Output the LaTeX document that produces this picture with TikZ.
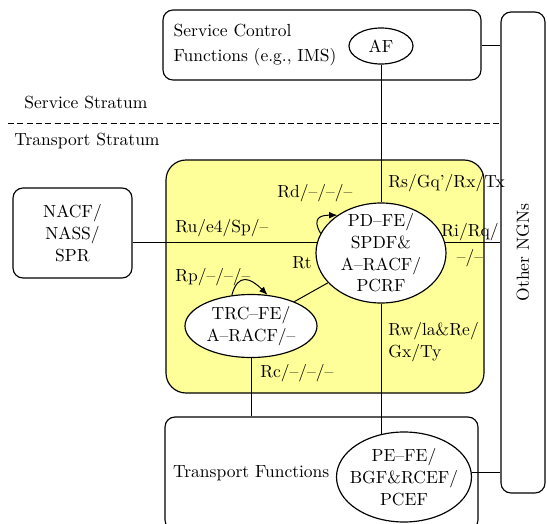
\documentclass[tikz,border=0pt]{standalone}
\usepackage{xcolor}
\usepackage{tikz}
\usetikzlibrary{shapes.geometric, arrows.meta}
\definecolor{qosyellow}{RGB}{255,255,153}

\begin{document}
\begin{tikzpicture}[
  x=0.6pt, y=-0.6pt,
  font=\fontsize{10.5}{13}\selectfont,
  block/.style={rectangle, rounded corners=6pt, draw=black, line width=0.7pt},
  func/.style={ellipse, draw=black, fill=white, line width=0.7pt, inner sep=-4pt, align=center},
  iface/.style={anchor=west, inner sep=0pt, align=left},
  link/.style={line width=0.6pt},
  arrow/.style={line width=0.6pt, -{Latex[length=5pt, width=4pt]}}
]
\useasboundingbox (0,0) rectangle (547,524);
\node (scf) [block, minimum width=190.8pt, minimum height=42pt, inner xsep=6pt, text width=178pt, align=left, font=\fontsize{10.5}{15}\selectfont] at (322,45) {Service Control\\Functions (e.g., IMS)};
\node (af) [func, minimum width=38.4pt, minimum height=21.6pt] at (381,46) {AF};
\node (sstr) at (86,103) {Service Stratum};
\node (tstr) at (87,141) {Transport Stratum};
\coordinate (divl) at (8,123);
\coordinate (divr) at (500,123);
\draw [dash pattern=on 3.6pt off 2pt, line width=0.6pt] (divl) -- (divr);
\node (racf) [block, rounded corners=12pt, fill=qosyellow, minimum width=190.8pt, minimum height=139.8pt] at (325,276.5) {};
\node (nacf) [block, minimum width=71.4pt, minimum height=54pt, align=center] at (72.5,233) {NACF/\\NASS/\\SPR};
\node (pdfe) [func, minimum width=78pt, minimum height=60pt] at (381,253) {PD--FE/\\SPDF\&\\A--RACF/\\PCRF};
\node (trc) [func, minimum width=79.2pt, minimum height=37.8pt] at (251,326) {TRC--FE/\\A--RACF/--};
\node (tf) [block, minimum width=187.8pt, minimum height=67.8pt, inner xsep=4.8pt, text width=178pt, align=left] at (321.5,473.5) {Transport Functions};
\node (pefe) [func, minimum width=81pt, minimum height=54pt] at (404,477) {PE--FE/\\BGF\&RCEF/\\PCEF};
\node (ngn) [block, minimum width=26.4pt, minimum height=288.6pt] at (523,252.5) {\rotatebox{90}{Other NGNs}};
\node (rd) [iface] at (277,193) {Rd/--/--/--};
\node (rs) [iface] at (388,183) {Rs/Gq'/Rx/Tx};
\node (ru) [iface] at (175,228) {Ru/e4/Sp/--};
\node (ri) [inner sep=0pt, align=center, font=\fontsize{10.5}{15.6}\selectfont] at (470,245) {Ri/Rq/\\--/--};
\node (rt) at (302,263) {Rt};
\node (rp) [iface] at (175,277) {Rp/--/--/--};
\node (rw) [iface] at (388,342) {Rw/la\&Re/\\Gx/Ty};
\node (rc) [iface] at (260,373) {Rc/--/--/--};
\draw [link] (af) -- (pdfe);
\draw [link] (scf.east) -- (scf.east -| ngn.west);
\draw [link] (pdfe.171) -- (pdfe.171 -| nacf.east);
\draw [link] (pdfe.9) -- (pdfe.9 -| ngn.west);
\draw [link] (trc) -- (pdfe);
\draw [link] (trc.south) -- (trc.south |- tf.north);
\draw [link] (pdfe.south) -- (pdfe.south |- pefe.117);
\draw [link] (pefe.4) -- (pefe.4 -| ngn.west);
\draw [arrow] (pdfe.162) to[out=120, in=180, looseness=1.8] (pdfe.139);
\draw [arrow] (trc.122) to[out=75, in=135, looseness=1.7] (trc.62);
\end{tikzpicture}
\end{document}
